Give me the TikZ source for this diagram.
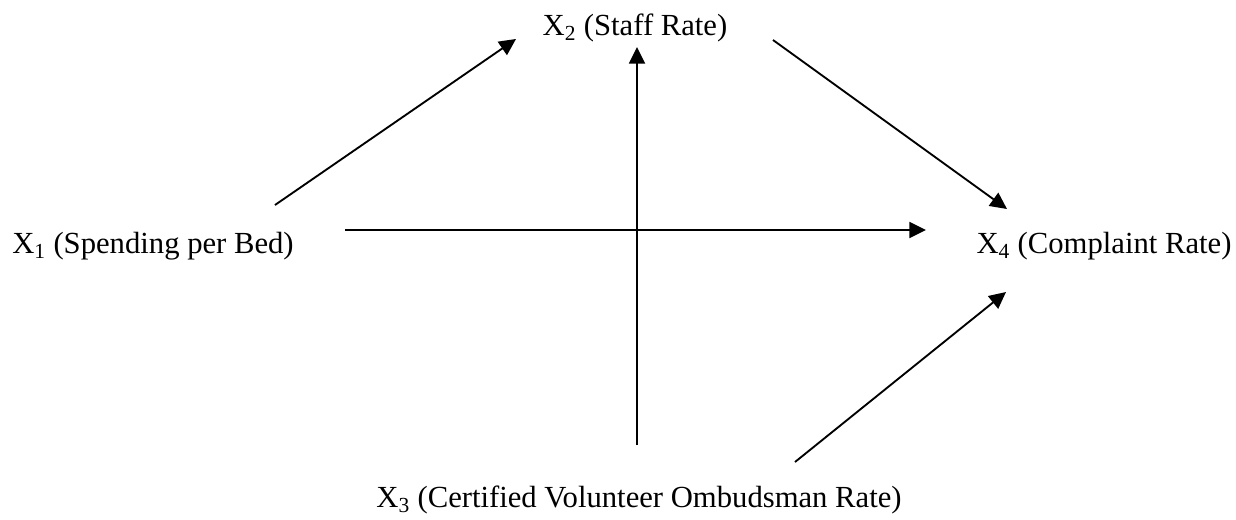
\documentclass[tikz,border=0pt]{standalone}
\usepackage{fontspec}
\setmainfont{Liberation Serif}
\usetikzlibrary{arrows.meta}
\begin{document}
\begin{tikzpicture}[x=0.75pt,y=-0.75pt,
  lbl/.style={inner sep=0pt,font=\fontsize{23}{28}\selectfont},
  conn/.style={line width=1.4pt,-{Triangle[length=12.5pt,width=12pt]}}]
\useasboundingbox (0,0) rectangle (1236,519);
\node[lbl] (x1) at (153,246) {X\textsubscript{1} (Spending per Bed)};
\node[lbl] (x2) at (635,28) {X\textsubscript{2} (Staff Rate)};
\node[lbl] (x3) at (639,500) {X\textsubscript{3} (Certified Volunteer Ombudsman Rate)};
\node[lbl] (x4) at (1104,246) {X\textsubscript{4} (Complaint Rate)};
\coordinate (a12s) at (275,205);
\coordinate (a12e) at (516,39);
\coordinate (a14s) at (345,230);
\coordinate (a14e) at (926,230);
\coordinate (a32s) at (637,445);
\coordinate (a32e) at (637,47);
\coordinate (a24s) at (773,40);
\coordinate (a24e) at (1007,209);
\coordinate (a34s) at (795,462);
\coordinate (a34e) at (1006,292);
\draw[conn] (a12s) -- (a12e);
\draw[conn] (a14s) -- (a14e);
\draw[conn] (a32s) -- (a32e);
\draw[conn] (a24s) -- (a24e);
\draw[conn] (a34s) -- (a34e);
\end{tikzpicture}
\end{document}
